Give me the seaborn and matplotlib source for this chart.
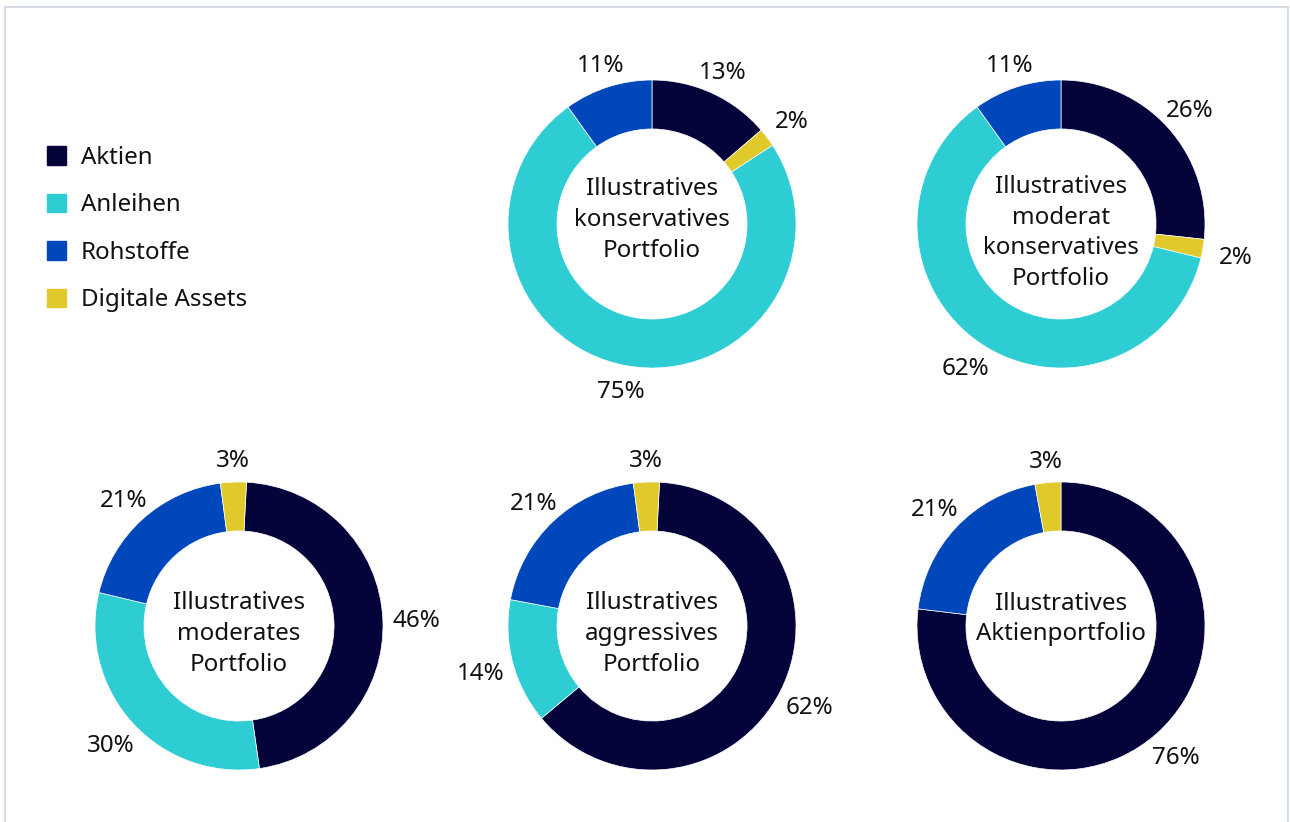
import matplotlib
matplotlib.use("Agg")
import numpy as np
import matplotlib.pyplot as plt
import matplotlib.patches as mpatches
import seaborn as sns

# -----------------------------
# DATA
# -----------------------------

categories = ["Aktien", "Anleihen", "Rohstoffe", "Digitale Assets"]
palette = ["#04033a", "#2ecdd3", "#0047bb", "#dfc92b"]

titles = [
    "Illustratives\nkonservatives\nPortfolio",
    "Illustratives\nmoderat\nkonservatives\nPortfolio",
    "Illustratives\nmoderates\nPortfolio",
    "Illustratives\naggressives\nPortfolio",
    "Illustratives\nAktienportfolio",
]

# slice order clockwise from 12 o'clock
order_konservativ = ["Aktien", "Digitale Assets", "Anleihen", "Rohstoffe"]
order_moderat_konservativ = ["Aktien", "Digitale Assets", "Anleihen", "Rohstoffe"]
order_moderat = ["Aktien", "Anleihen", "Rohstoffe", "Digitale Assets"]
order_aggressiv = ["Aktien", "Anleihen", "Rohstoffe", "Digitale Assets"]
order_aktien = ["Aktien", "Rohstoffe", "Digitale Assets"]

# slice sizes as drawn in the picture (%)
shares_konservativ = [13.7, 2.1, 74.3, 9.9]
shares_moderat_konservativ = [26.7, 2.1, 61.3, 9.9]
shares_moderat = [46.9, 31.0, 19.2, 2.9]
shares_aggressiv = [63.1, 14.0, 20.0, 2.9]
shares_aktien = [76.9, 20.2, 2.9]

# printed labels
labels_konservativ = ["13%", "2%", "75%", "11%"]
labels_moderat_konservativ = ["26%", "2%", "62%", "11%"]
labels_moderat = ["46%", "30%", "21%", "3%"]
labels_aggressiv = ["62%", "14%", "21%", "3%"]
labels_aktien = ["76%", "21%", "3%"]

orders = [order_konservativ, order_moderat_konservativ, order_moderat,
          order_aggressiv, order_aktien]
shares = [shares_konservativ, shares_moderat_konservativ, shares_moderat,
          shares_aggressiv, shares_aktien]
labels = [labels_konservativ, labels_moderat_konservativ, labels_moderat,
          labels_aggressiv, labels_aktien]

# -----------------------------
# STYLE / LAYOUT
# -----------------------------

sns.set_style("white")
plt.rcParams['font.family'] = ['Noto Sans', 'DejaVu Sans']
FS = 17.4
TXT = "#111111"

color_of = dict(zip(categories, palette))

W, H = 1290, 822
fig = plt.figure(figsize=(W / 100, H / 100), dpi=100)

# light frame around the graphic
fig.add_artist(mpatches.Rectangle((5 / W, -0.05), 1283 / W, 1.05 - 7 / H,
                                  transform=fig.transFigure, fill=False,
                                  edgecolor="#d6dde5", linewidth=1.5))

# donut centres (pixels), radius, start angles, title shift (pixels, down)
centres = [(652, 224), (1061, 224), (239, 626), (652, 626), (1061, 626)]
starts = [90, 90, 87, 87, 90]
title_shift = [-4, 9, 8, 8, -7]
R = 144
LIM = 1.45

# -----------------------------
# DONUTS
# -----------------------------

for i, ((cx, cy), st, title, order, vals, labs) in enumerate(
        zip(centres, starts, titles, orders, shares, labels)):
    ax = fig.add_axes([(cx - LIM * R) / W, 1 - (cy + LIM * R) / H,
                       2 * LIM * R / W, 2 * LIM * R / H])
    wedges, texts = ax.pie(
        vals,
        labels=labs,
        colors=[color_of[c] for c in order],
        startangle=st,
        counterclock=False,
        radius=1,
        labeldistance=1.2,
        wedgeprops=dict(width=0.34, edgecolor="white", linewidth=0.5),
        textprops=dict(fontsize=FS, color=TXT),
    )
    # labels sit a bit further out at the sides than at top / bottom
    for w, t in zip(wedges, texts):
        ang = np.deg2rad((w.theta1 + w.theta2) / 2)
        d = (168 + 10 * np.cos(ang) ** 2) / R
        t.set_position((d * np.cos(ang), d * np.sin(ang) - 3 / R))
        t.set_ha("center")
        t.set_va("center")
    ax.text(0, -title_shift[i] / R, title, ha="center", va="center",
            fontsize=FS, linespacing=1.38, color=TXT)
    ax.set_xlim(-LIM, LIM)
    ax.set_ylim(-LIM, LIM)
    ax.set_aspect("equal")
    ax.axis("off")

# -----------------------------
# LEGEND
# -----------------------------

handles = [mpatches.Patch(color=c) for c in palette]
fig.legend(handles, categories, loc="upper left",
           bbox_to_anchor=(47 / W, 1 - 146 / H),
           frameon=False, fontsize=FS, handlelength=0.8, handleheight=0.8,
           handletextpad=0.6, labelspacing=0.97, borderpad=0,
           borderaxespad=0, labelcolor=TXT)

plt.savefig("out.png", dpi=100)
